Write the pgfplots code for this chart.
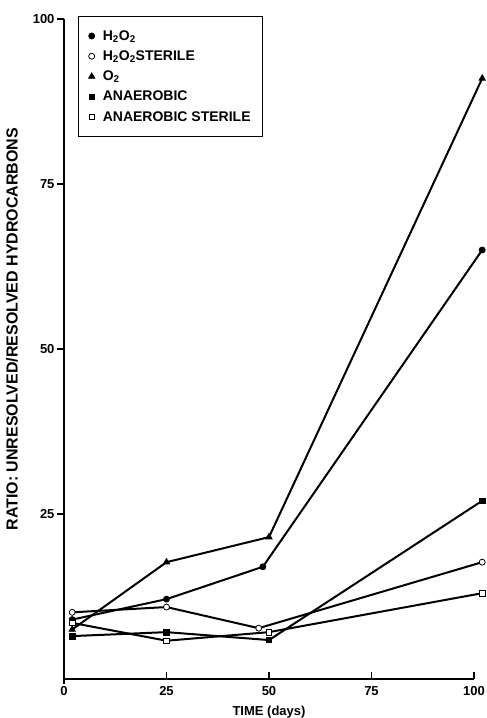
\documentclass[border=0pt]{standalone}
\usepackage{fontspec}
\setmainfont{Liberation Sans}
\usepackage{pgfplots}
\pgfplotsset{compat=1.18}
\begin{document}
\begin{tikzpicture}
\begin{axis}[
  width=410pt, height=660pt, scale only axis,
  xmin=0, xmax=100, ymin=0, ymax=100,
  axis x line*=bottom, axis y line*=left,
  axis line style={line width=1.5pt,-},
  clip=false,
  xtick={0,25,50,75,100}, ytick={25,50,75,100},
  major tick length=0pt,
  /pgf/number format/assume math mode=true,
  ticklabel style={font=\fontsize{13}{15}\selectfont\bfseries},
  yticklabel style={xshift=-6pt},
  xticklabel style={yshift=-4pt},
  xlabel={TIME (days)},
  ylabel={RATIO: UNRESOLVED/RESOLVED HYDROCARBONS},
  xlabel style={font=\fontsize{13}{15}\selectfont\bfseries, at={(axis description cs:0.5,0)}, anchor=center, yshift=-33pt},
  ylabel style={font=\fontsize{16}{18}\selectfont\bfseries, at={(axis description cs:-0.127,0.53)}, anchor=center},
  legend image code/.code={\draw[mark repeat=2,mark phase=2,#1,only marks] plot coordinates {(0cm,0cm)(0.2cm,0cm)(0.4cm,0cm)};},
  legend style={at={(axis description cs:0.034,1.005)}, anchor=north west, draw=black, line width=1.3pt,
    font=\fontsize{14}{16}\selectfont\bfseries, row sep=5pt, inner xsep=10pt, inner ysep=12pt,
    /tikz/every odd column/.append style={column sep=6pt}},
  legend cell align=left,
]
\addplot[black, line width=2pt, mark=*, mark size=3pt, mark options={solid, fill=black, draw=black, line width=0.8pt}] coordinates {(2,9.0) (25,12.1) (48.5,17.0) (102,65)};
\addlegendentry{H\textsubscript{2}O\textsubscript{2}}
\addplot[black, line width=2pt, mark=*, mark size=3pt, mark options={solid, fill=white, draw=black, line width=0.8pt}] coordinates {(2,10.1) (25,10.9) (47.5,7.7) (102,17.7)};
\addlegendentry{H\textsubscript{2}O\textsubscript{2}STERILE}
\addplot[black, line width=2pt, mark=triangle*, mark size=3.6pt, mark options={solid, fill=black, draw=black, line width=0.8pt}] coordinates {(2,7.5) (25,17.7) (50,21.5) (102,91)};
\addlegendentry{O\textsubscript{2}}
\addplot[black, line width=2pt, mark=square*, mark size=2.8pt, mark options={solid, fill=black, draw=black, line width=0.8pt}] coordinates {(2,6.5) (25,7.1) (50,5.9) (102,27)};
\addlegendentry{ANAEROBIC}
\addplot[black, line width=2pt, mark=square*, mark size=2.8pt, mark options={solid, fill=white, draw=black, line width=0.8pt}] coordinates {(2,8.5) (25,5.8) (50,7.1) (102,13)};
\addlegendentry{ANAEROBIC STERILE}
% tick marks: x ticks point up (inside), y ticks point left (outside)
\draw[line width=1.5pt] (axis cs:25,0) -- ++(0pt,7pt);
\draw[line width=1.5pt] (axis cs:50,0) -- ++(0pt,7pt);
\draw[line width=1.5pt] (axis cs:75,0) -- ++(0pt,7pt);
\draw[line width=1.5pt] (axis cs:100,0) -- ++(0pt,7pt);
\draw[line width=1.5pt] (axis cs:0,0) -- ++(0pt,-5pt);
\draw[line width=1.5pt] (axis cs:0,25) -- ++(-7pt,0pt);
\draw[line width=1.5pt] (axis cs:0,50) -- ++(-7pt,0pt);
\draw[line width=1.5pt] (axis cs:0,75) -- ++(-7pt,0pt);
\draw[line width=1.5pt] (axis cs:0,100) -- ++(-7pt,0pt);
\end{axis}
\pgfresetboundingbox
\path[use as bounding box] (-64pt,-39pt) rectangle (423pt,679pt);
\end{tikzpicture}
\end{document}
